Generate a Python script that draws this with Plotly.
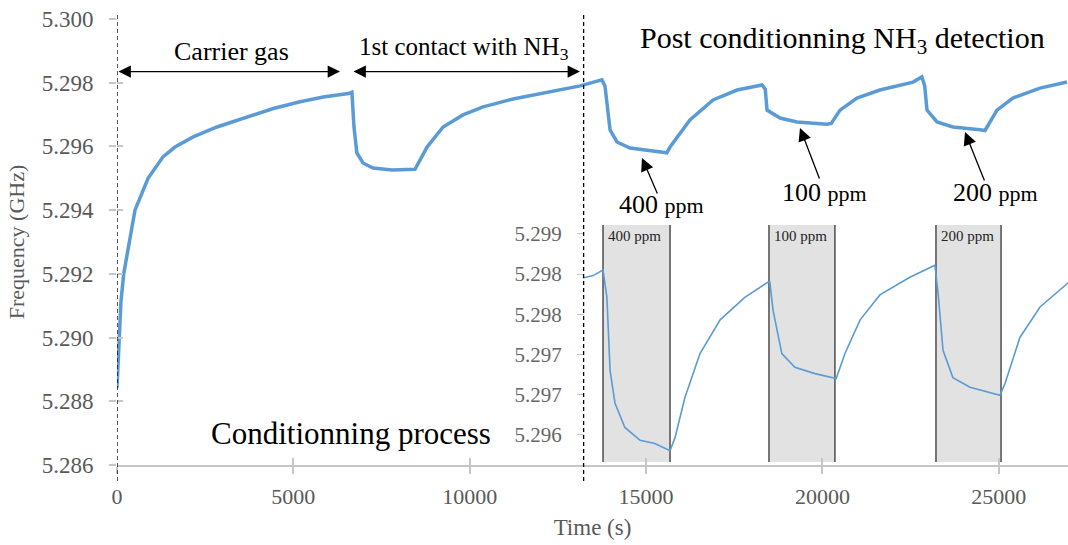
import plotly.graph_objects as go

# ---------------- data ----------------
time_s = [0, 54, 110, 190, 345, 510, 880, 1310, 1645, 2160, 2835, 3680, 4430,
          5190, 5850, 6560, 6660, 6720, 6800, 6975, 7260, 7800, 8450, 8790,
          9245, 9810, 10380, 11230, 12190, 13130, 13750, 13835, 13980, 14175,
          14545, 15110, 15590, 15680, 16245, 16900, 17580, 18290, 18380, 18430,
          18800, 19280, 20130, 20250, 20500, 20980, 21630, 22570, 22820, 22900,
          22965, 23250, 23700, 24470, 24610, 24950, 25400, 26170, 26935]
freq_ghz = [5.28842, 5.2900, 5.2911, 5.2920, 5.2930, 5.2940, 5.2950, 5.29568,
            5.29598, 5.2963, 5.29661, 5.29692, 5.29719, 5.2974, 5.29755,
            5.29766, 5.2977, 5.2966, 5.2958, 5.29548, 5.29532, 5.29526,
            5.29528, 5.29598, 5.29661, 5.29699, 5.29724, 5.29749, 5.29771,
            5.2979, 5.29809, 5.2979, 5.29652, 5.29614, 5.29595, 5.29586,
            5.2958, 5.29598, 5.29683, 5.29746, 5.29777, 5.29793, 5.2978,
            5.29714, 5.29689, 5.29677, 5.2967, 5.29672, 5.29714, 5.29752,
            5.29777, 5.29802, 5.29818, 5.2979, 5.29714, 5.29677, 5.29661,
            5.29652, 5.2965, 5.29714, 5.29752, 5.29783, 5.29802]

inset_time_s = [13210, 13500, 13780, 13890, 13980, 14120, 14400, 14830, 15250,
                15680, 15820, 16100, 16530, 17100, 17800, 18460, 18510, 18600,
                18850, 19220, 19790, 20390, 20640, 21070, 21630, 22480, 23190,
                23280, 23420, 23700, 24185, 25035, 25180, 25600, 26170, 26970]
inset_freq_ghz = [5.29845, 5.29848, 5.29855, 5.29821, 5.2973, 5.29689, 5.29659,
                  5.29643, 5.29639, 5.2963, 5.29646, 5.29696, 5.29751, 5.29793,
                  5.29821, 5.2984, 5.2984, 5.29805, 5.29751, 5.29734, 5.29726,
                  5.2972, 5.29751, 5.29793, 5.29824, 5.29846, 5.29861, 5.29826,
                  5.29755, 5.29721, 5.29709, 5.29699, 5.29714, 5.29771,
                  5.29809, 5.29839]

x_ticks = [0, 5000, 10000, 15000, 20000, 25000]
y_ticks = [5.286, 5.288, 5.290, 5.292, 5.294, 5.296, 5.298, 5.300]
inset_y_ticks = [5.2965, 5.2970, 5.2975, 5.2980, 5.2985, 5.2990]
inset_y_labels = ["5.296", "5.297", "5.297", "5.298", "5.298", "5.299"]

band_starts = [13780, 18485, 23220]
band_ends = [15680, 20355, 25065]
band_labels = ["400 ppm", "100 ppm", "200 ppm"]

phase_bounds = [0, 13230]          # dashed separators (s)
carrier_span = [0, 6323]
contact_span = [6663, 13127]
span_level = 5.29835

ppm_labels = ["400", "100", "200"]
ppm_tip_t = [14885, 19365, 24043]
ppm_tip_f = [5.29564, 5.29658, 5.29645]

# ---------------- figure ----------------
W, H = 1068, 545
FONT = "Liberation Serif"
GRAY = "#595959"
AX = "#c6c6c6"
BLUE = "#5b9bd5"

def px(x):
    return x / W

def py(y):
    return 1 - y / H

fig = go.Figure()

fig.add_trace(go.Scatter(x=time_s, y=freq_ghz, mode="lines",
                         line=dict(color=BLUE, width=3.5), xaxis="x", yaxis="y",
                         showlegend=False, hoverinfo="skip"))
fig.add_trace(go.Scatter(x=inset_time_s, y=inset_freq_ghz, mode="lines",
                         line=dict(color=BLUE, width=1.6), xaxis="x", yaxis="y2",
                         showlegend=False, hoverinfo="skip"))
# dummy trace for crossing tick overlay axes
fig.add_trace(go.Scatter(x=[None], y=[None], xaxis="x3", yaxis="y3",
                         showlegend=False, hoverinfo="skip"))

x_dom = [px(117), 1.0]
x_rng = [0, 951 / 0.03527]
y_dom = [py(465), py(19)]
y_rng = [5.286, 5.300]

fig.update_layout(
    width=W, height=H,
    margin=dict(l=0, r=0, t=0, b=0, pad=0, autoexpand=False),
    paper_bgcolor="white", plot_bgcolor="rgba(0,0,0,0)",
    font=dict(family=FONT, color=GRAY),
    xaxis=dict(domain=x_dom, range=x_rng, anchor="y", tickvals=x_ticks,
               ticktext=[str(v) for v in x_ticks], automargin=False,
               showgrid=False, zeroline=False, showline=True, linecolor=AX,
               linewidth=1.8, ticks="outside", ticklen=7, tickcolor=AX,
               tickwidth=1.5, tickfont=dict(size=22, color=GRAY, family=FONT),
               ticklabelstandoff=4,
               title=dict(text="Time (s)", font=dict(size=23, color=GRAY, family=FONT),
                          standoff=11)),
    yaxis=dict(domain=y_dom, range=y_rng, anchor="x", tickvals=y_ticks,
               tickformat=".3f", showgrid=False, zeroline=False, showline=False,
               automargin=False,
               ticks="outside", ticklen=7, tickcolor=AX, tickwidth=1.5,
               tickfont=dict(size=23, color=GRAY, family=FONT),
               ticklabelstandoff=11,
               title=dict(text="Frequency (GHz)", font=dict(size=22, color=GRAY, family=FONT),
                          standoff=10)),
    xaxis3=dict(domain=x_dom, range=x_rng, anchor="y3", overlaying="x",
                tickvals=x_ticks, showticklabels=False, showgrid=False,
                automargin=False,
                zeroline=False, showline=False, ticks="inside", ticklen=7,
                tickcolor=AX, tickwidth=1.5),
    yaxis3=dict(domain=y_dom, range=y_rng, anchor="x3", overlaying="y",
                tickvals=y_ticks, showticklabels=False, showgrid=False,
                automargin=False,
                zeroline=False, showline=False, ticks="inside", ticklen=6,
                tickcolor=AX, tickwidth=1.5),
    yaxis2=dict(domain=[py(462), py(225)], range=[5.29616, 5.29911],
                anchor="free", position=px(584), tickvals=inset_y_ticks,
                ticktext=inset_y_labels, showgrid=False, zeroline=False,
                automargin=False,
                showline=False, ticks="outside", ticklen=7, tickcolor=AX,
                tickwidth=1.2, ticklabelstandoff=11,
                tickfont=dict(size=21, color="#666666", family=FONT)),
)

shapes = []
# inset white background
shapes.append(dict(type="rect", xref="paper", yref="paper", x0=px(510), x1=1.0,
                   y0=py(463), y1=py(216), fillcolor="white", line=dict(width=0),
                   layer="below"))
# dashed phase separators
for t in phase_bounds:
    shapes.append(dict(type="line", xref="x", yref="paper", x0=t, x1=t,
                       y0=py(481), y1=py(12),
                       line=dict(color="black", width=1.3, dash="4px,3px"),
                       layer="above"))
# inset exposure bands
for s, e in zip(band_starts, band_ends):
    shapes.append(dict(type="rect", xref="x", yref="y2 domain", x0=s, x1=e,
                       y0=0, y1=1, fillcolor="#e2e2e2", line=dict(width=0),
                       layer="below"))
    for t in (s, e):
        shapes.append(dict(type="line", xref="x", yref="y2 domain", x0=t, x1=t,
                           y0=0, y1=1, line=dict(color="#4d4d4d", width=1.5),
                           layer="below"))
fig.update_layout(shapes=shapes)

ann = []
# band labels in inset
for s, lab in zip(band_starts, band_labels):
    ann.append(dict(x=s, y=1, xref="x", yref="y2 domain", text=lab,
                    showarrow=False, xanchor="left", yanchor="top", xshift=3,
                    yshift=-1, font=dict(size=15, color="#222", family=FONT)))
# double-headed phase arrows
for a, b in (carrier_span, contact_span):
    ann.append(dict(x=b, y=span_level, ax=a, ay=span_level, xref="x", yref="y",
                    axref="x", ayref="y", text="", showarrow=True,
                    arrowhead=2, startarrowhead=2, arrowside="end+start",
                    arrowsize=1.9, startarrowsize=1.9, arrowwidth=1.3,
                    arrowcolor="black"))

def text_ann(x, y, text, size):
    return dict(x=px(x), y=py(y), xref="paper", yref="paper", text=text,
                showarrow=False, xanchor="center", yanchor="middle",
                font=dict(size=size, color="black", family=FONT))

# phase texts
ann.append(text_ann(231, 51, "Carrier gas", 26))
ann.append(text_ann(464, 49, "1st contact with NH<sub>3</sub>", 25))
ann.append(text_ann(842, 40, "Post conditionning NH<sub>3</sub> detection", 30))
ann.append(text_ann(351, 433, "Conditionning process", 31))
# concentration pointers
label_pos = [(661, 205), (824, 192), (995, 193)]
tails = [(16, 37), (20, 52), (20, 50)]
for lab, t, f, (lx, ly), (dx, dy) in zip(ppm_labels, ppm_tip_t, ppm_tip_f, label_pos, tails):
    ann.append(dict(x=t, y=f, xref="x", yref="y", ax=dx, ay=dy, text="",
                    showarrow=True, arrowhead=2, arrowsize=2.0, arrowwidth=1.3,
                    arrowcolor="black"))
    ann.append(text_ann(lx, ly, lab + " <span style='font-size:22px'>ppm</span>", 26))
fig.update_layout(annotations=ann)

fig.write_html("out.html", config={"displayModeBar": False},
               post_script="document.body.style.margin='0px';"
                           "document.body.style.overflow='hidden';")
